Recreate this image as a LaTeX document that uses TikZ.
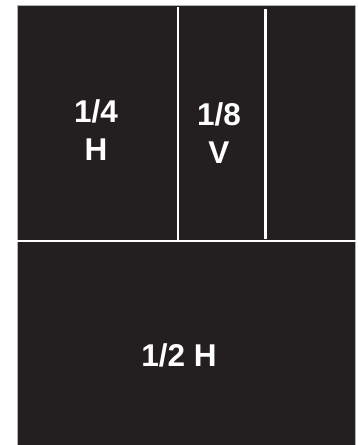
\documentclass[tikz,border=0pt]{standalone}
\usepackage{fontspec}
\setmainfont{Liberation Sans}
\definecolor{panel}{HTML}{231F20}
\tikzset{
  lbl/.style={text=white, font=\fontsize{31.5}{31.5}\selectfont\bfseries, anchor=base, inner sep=0pt},
  divider/.style={draw=white, line width=2.3pt}
}
\begin{document}
\begin{tikzpicture}[x=1pt,y=-1pt]
\useasboundingbox (0,0) rectangle (357,445);
\fill[white] (0,0) rectangle (357,445);
\path[fill=panel, draw=gray!60, line width=0.7pt] (17,5) rectangle (355.5,446);
\coordinate (v1t) at (178.2,7);
\coordinate (v1b) at (178.2,240);
\coordinate (v2t) at (265.5,9);
\coordinate (v2b) at (265.5,239);
\coordinate (hl) at (17,241.3);
\coordinate (hr) at (357,241.3);
\draw[divider] (v1t) -- (v1b);
\draw[divider] (v2t) -- (v2b);
\draw[divider] (hl) -- (hr);
\node[lbl] (q1) at (96,122) {1/4};
\node[lbl] (q2) at (96,160) {H};
\node[lbl] (e1) at (219,125.5) {1/8};
\node[lbl] (e2) at (219,163.5) {V};
\node[lbl] (h) at (179,366) {1/2 H};
\end{tikzpicture}
\end{document}
